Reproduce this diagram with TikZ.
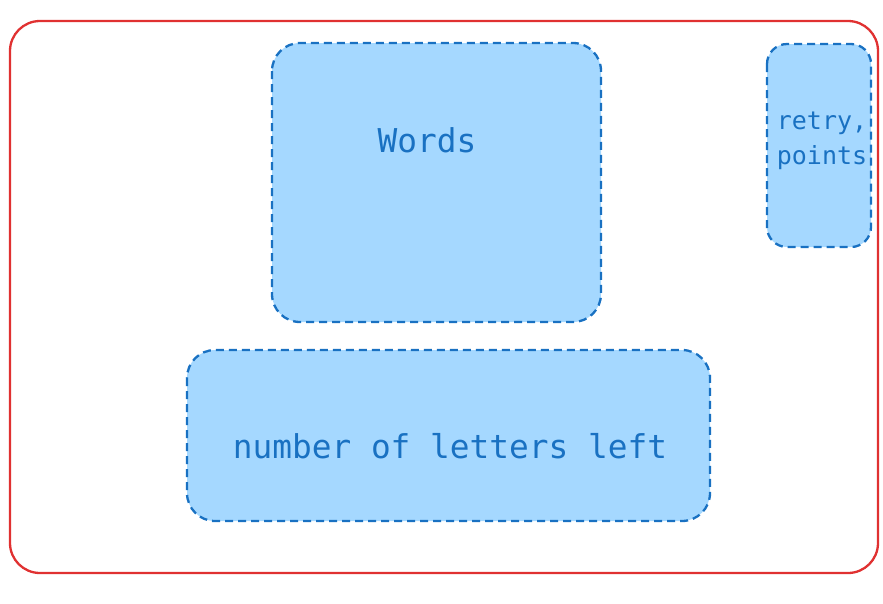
\documentclass[tikz,border=0pt]{standalone}
\usepackage{fontspec}
\setmonofont{DejaVu Sans Mono}
\definecolor{framered}{HTML}{E03131}
\definecolor{boxfill}{HTML}{A5D8FF}
\definecolor{boxline}{HTML}{1971C2}
\begin{document}
\begin{tikzpicture}[x=1pt,y=-1pt,
  frame/.style={draw=framered,line width=2.3pt,rounded corners=30pt},
  bluebox/.style={draw=boxline,fill=boxfill,line width=2.3pt,dash pattern=on 8pt off 5pt,rounded corners=28pt},
  boxtext/.style={text=boxline,font=\ttfamily\fontsize{32.8}{38}\selectfont,inner sep=0pt},
  smalltext/.style={text=boxline,font=\ttfamily\fontsize{25}{35}\selectfont,inner sep=0pt,align=center}]
\useasboundingbox (0,0) rectangle (883,603);
\draw[frame] (10,21) rectangle (878,573);
\draw[bluebox] (272,43) rectangle (601,322);
\draw[bluebox] (187,350) rectangle (710,521);
\draw[bluebox,rounded corners=20pt] (767,44) rectangle (871,247);
\node[boxtext] (words) at (427,140) {Words};
\node[boxtext] (letters) at (450,446) {number of letters left};
\node[smalltext] (retry) at (822,141) {retry,\\points};
\end{tikzpicture}
\end{document}
